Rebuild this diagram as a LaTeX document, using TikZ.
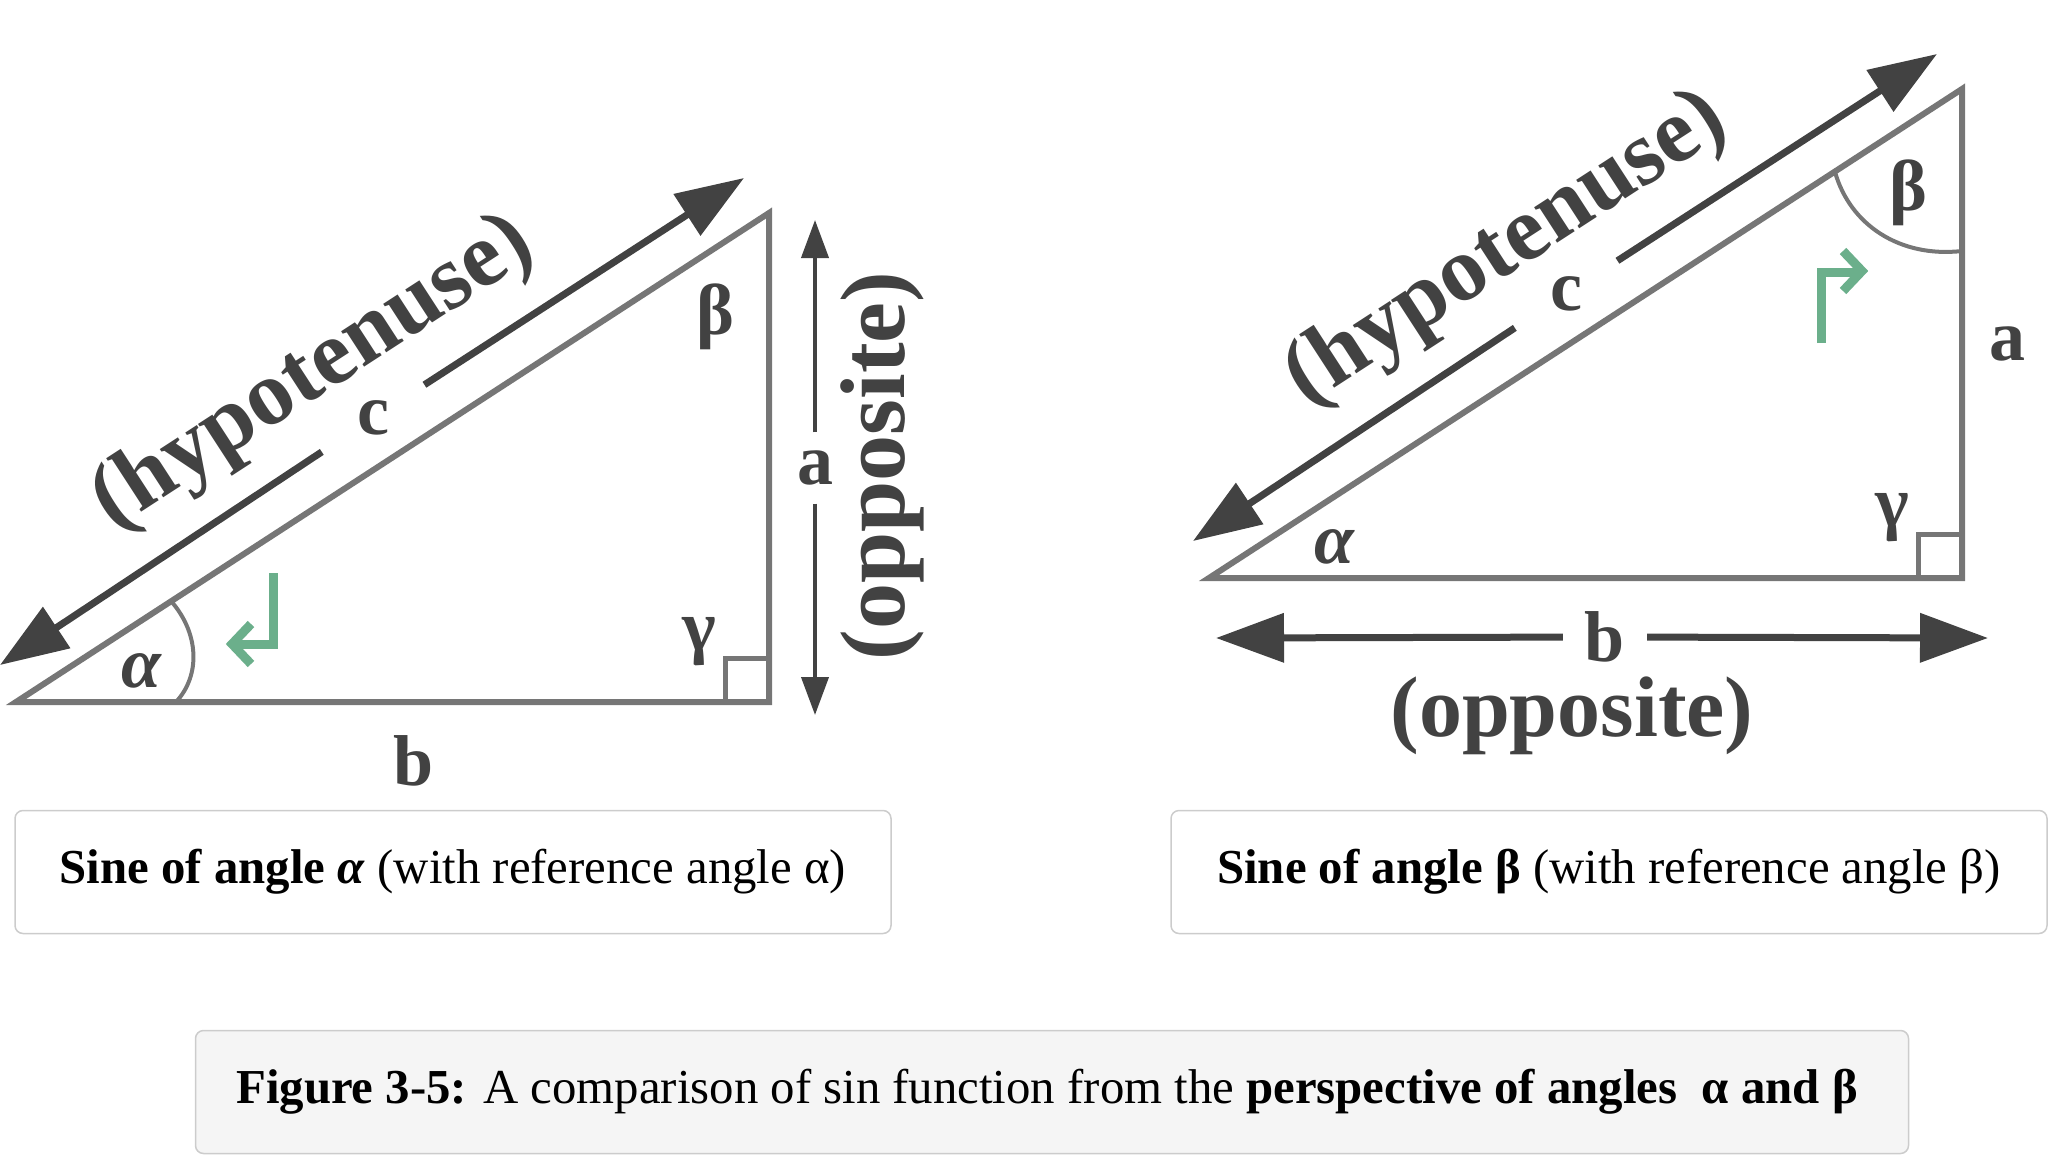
\documentclass[tikz,border=0pt]{standalone}
\usepackage{fontspec}
\setmainfont{Liberation Serif}
\usetikzlibrary{arrows.meta}

\definecolor{trigray}{HTML}{767676}
\definecolor{inkgray}{HTML}{424242}
\definecolor{refgreen}{HTML}{6BAF8B}
\definecolor{boxgray}{HTML}{CCCCCC}
\definecolor{capfill}{HTML}{F5F5F5}

\newcommand{\lblfont}{\fontsize{72}{80}\selectfont\bfseries}
\newcommand{\capfont}{\fontsize{48.8}{58}\selectfont}

\tikzset{
  tri/.style={draw=trigray, line width=6pt, line join=miter},
  angarc/.style={draw=trigray, line width=4pt},
  dimline/.style={draw=inkgray, line width=7pt, -{Triangle[length=68pt,width=48pt]}},
  thinline/.style={draw=inkgray, line width=4pt, -{Triangle[length=38pt,width=27pt]}},
  refarrow/.style={draw=refgreen, line width=9pt, line join=miter},
  lbl/.style={text=inkgray, font=\lblfont, inner sep=0pt},
  biglbl/.style={text=inkgray, inner sep=0pt},
  capbox/.style={draw=boxgray, line width=1.5pt, rounded corners=8pt, fill=white,
    minimum width=876pt, minimum height=123pt, font=\capfont}
}

\begin{document}
\begin{tikzpicture}[x=1pt,y=-1pt]
\useasboundingbox (0,0) rectangle (2048,1156);

% the two triangles share everything but the side labels
\foreach \s/\dx/\dy in {L/0/0, R/1193/-124}{
\begin{scope}[shift={(\dx,\dy)}]
  \coordinate (A\s) at (16,702);
  \coordinate (B\s) at (769,213);
  \coordinate (C\s) at (769,702);
  \draw[tri] (A\s) -- (C\s) -- (B\s) -- cycle;
  \draw[tri, line width=5pt] (725,702) |- (769,658);
  \node[lbl] (alpha\s) at (141,671) {\itshape α};
  \node[lbl] (beta\s) at (715,317) {β};
  \node[lbl] (gamma\s) at (699,642) {γ};
  % hypotenuse arrow
  \coordinate (hlo\s) at (0,665);
  \coordinate (hhi\s) at (744,178);
  \node[lbl] (c\s) at (373,418) {c};
  \draw[dimline, shorten <=42pt] (c\s) -- (hlo\s);
  \draw[dimline, shorten <=42pt] (c\s) -- (hhi\s);
  \node[biglbl, rotate=33, font=\fontsize{92}{96}\selectfont\bfseries] (hyp\s) at (314,374) {(hypotenuse)};
\end{scope}}

% left: reference angle alpha
\draw[angarc] (176,702) .. controls (201,675) and (199,633) .. (171,601);
\draw[refarrow] (273,573) -- (273,644) -- (234,644);
\draw[refarrow] (251,624) -- (232,644) -- (251,664);
\node[lbl] (bL) at (414,761) {b};
\coordinate (atop) at (815,220);
\coordinate (abot) at (815,715);
\node[lbl, minimum height=71pt] (aL) at (815,468) {a};
\draw[thinline] (aL) -- (atop);
\draw[thinline] (aL) -- (abot);
\node[biglbl, rotate=90, font=\fontsize{92}{96}\selectfont\bfseries] (oppL) at (882,466) {(opposite)};

% right: reference angle beta
\draw[angarc] (1835,172) .. controls (1850,225) and (1900,258) .. (1962,251);
\draw[refarrow] (1821,343) -- (1821,272) -- (1860,272);
\draw[refarrow] (1843,251) -- (1862,271) -- (1843,291);
\node[lbl] (aR) at (2007,344) {a};
\coordinate (bleft) at (1216,638);
\coordinate (bright) at (1988,638);
\node[lbl, minimum width=84pt] (bR) at (1605,637) {b};
\draw[dimline] (bR) -- (bleft);
\draw[dimline] (bR) -- (bright);
\node[biglbl, font=\fontsize{86}{90}\selectfont\bfseries] (oppR) at (1572,716) {(opposite)};

% captions
\node[capbox] (capL) at (453,872) {\textbf{Sine of angle \textit{α}} (with reference angle α)};
\node[capbox] (capR) at (1609,872) {\textbf{Sine of angle β} (with reference angle β)};
\node[capbox, fill=capfill, minimum width=1713pt] (fig) at (1052,1092)
  {\textbf{Figure 3-5:} A comparison of sin function from the \textbf{perspective of angles~ α and β}\hspace*{10pt}};

\end{tikzpicture}
\end{document}
